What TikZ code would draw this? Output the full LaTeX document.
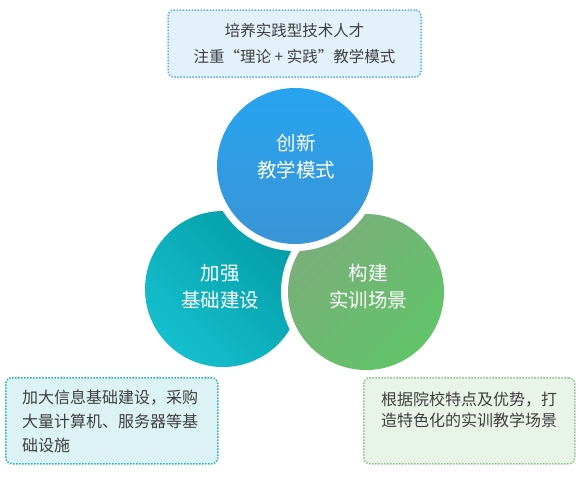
\documentclass[tikz,border=0pt]{standalone}
\usepackage{fontspec}
\setmainfont{Noto Sans CJK SC}
\definecolor{blueup}{HTML}{27A4F0}
\definecolor{bluedown}{HTML}{3B94D6}
\definecolor{tealup}{HTML}{049DA7}
\definecolor{tealdown}{HTML}{15BFCD}
\definecolor{greenup}{HTML}{7BAE7B}
\definecolor{greendown}{HTML}{61C469}
\definecolor{blueedge}{HTML}{55B0EC}
\definecolor{bluefill}{HTML}{E3F1FA}
\definecolor{tealedge}{HTML}{22B3C0}
\definecolor{tealfill}{HTML}{DCF2F4}
\definecolor{greenedge}{HTML}{88C788}
\definecolor{greenfill}{HTML}{E9F4E9}
\definecolor{textgray}{HTML}{3F3F3F}
\begin{document}
\begin{tikzpicture}[x=1pt,y=-1pt,
    circtext/.style={text=white,font=\fontsize{19.5}{27}\selectfont,align=center},
    notebox/.style={rounded corners=6pt,line width=1.5pt,dash pattern=on 1.5pt off 1.5pt,inner sep=0pt},
    notetext/.style={text=textgray,align=left,inner sep=0pt,anchor=north west}]
    \useasboundingbox (0,0) rectangle (581,477);
    % left circle
    \shade[top color=tealup,bottom color=tealdown,shading angle=-45] (223,289) circle (78);
    % right circle
    \fill[white] (366,292) circle (85);
    \shade[top color=greenup,bottom color=greendown,shading angle=45] (366,292) circle (78);
    % top circle
    \fill[white] (295,166) circle (85);
    \shade[top color=blueup,bottom color=bluedown] (295,166) circle (78);
    % circle labels
    \node[circtext] (innov) at (296,156.5) {创新\\教学模式};
    \node[circtext] (infra) at (220,286.5) {加强\\基础建设};
    \node[circtext] (scene) at (368,286.5) {构建\\实训场景};
    % notes
    \node[notebox,draw=blueedge,fill=bluefill,minimum width=253pt,minimum height=67pt,
        text=textgray,font=\fontsize{15.5}{26}\selectfont,align=center]
        (goal) at (294.5,43.5) {培养实践型技术人才\\注重“理论 + 实践”教学模式};
    \node[notebox,draw=tealedge,fill=tealfill,minimum width=212pt,minimum height=86pt,
        anchor=north west] (infrabox) at (5,377) {};
    \node[notetext,font=\fontsize{16}{24}\selectfont] (infratext) at (22,390)
        {加大信息基础建设，采购\\大量计算机、服务器等基\\础设施};
    \node[notebox,draw=greenedge,fill=greenfill,minimum width=211pt,minimum height=86pt,
        anchor=north west] (scenebox) at (363,377) {};
    \node[notetext,font=\fontsize{16}{21}\selectfont] (scenetext) at (381,392)
        {根据院校特点及优势，打\\造特色化的实训教学场景};
\end{tikzpicture}
\end{document}
